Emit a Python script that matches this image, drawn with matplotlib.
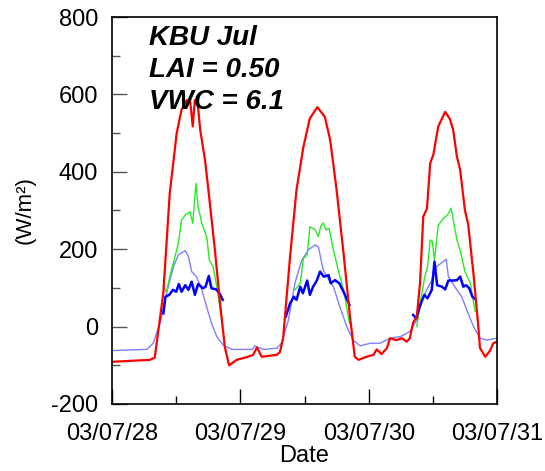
import numpy as np
import matplotlib
matplotlib.use("Agg")
import matplotlib.pyplot as plt
import matplotlib.dates as mdates
from datetime import datetime, timedelta

plt.rcParams['font.family'] = ['Liberation Sans', 'DejaVu Sans']
plt.rcParams['axes.unicode_minus'] = False

nan = np.nan
start = datetime(2003, 7, 28)

# net radiation (hours since start, W/m2)
rn_hours = [0, 7.1, 8.0, 9.6, 10.8, 12.1, 13.0, 14.0, 14.6, 15.1, 15.5, 16.0, 16.5,
            17.4, 18.3, 19.3, 20.2, 21.1, 21.9, 23.3, 25.2, 26.4, 27.1, 28.0, 30.8,
            31.4, 32.0, 33.3, 34.5, 35.8, 37.0, 38.4, 39.8, 40.8, 42.0, 43.3, 44.5,
            45.4, 46.1, 47.6, 48.9, 49.5, 50.4, 51.4, 52.0, 53.2, 54.2, 55.1, 55.7,
            56.3, 57.0, 57.6, 58.2, 58.9, 59.5, 60.1, 61.0, 62.3, 63.2, 63.8, 64.5,
            65.1, 66.0, 66.6, 67.6, 68.5, 68.8, 69.8, 70.7, 71.3, 72.0]
rn_vals = [-91, -86, -80, 87, 345, 500, 560, 585, 585, 517, 585, 580, 508,
           430, 319, 190, 61, -53, -100, -86, -79, -73, -54, -78, -73,
           -66, -30, 181, 353, 465, 538, 567, 542, 482, 353, 189, 26,
           -78, -86, -78, -73, -59, -71, -56, -30, -35, -30, -39, -30,
           10, 26, 112, 284, 305, 422, 445, 517, 555, 536, 508, 439,
           405, 300, 265, 135, 0, -55, -78, -62, -43, -39]

# sensible heat flux
h_hours = [0, 6.5, 7.7, 9.0, 10.2, 11.5, 12.4, 13.7, 14.3, 14.9, 15.8, 16.8, 17.7,
           18.6, 19.6, 20.8, 22.4, 23.9, 26.2, 26.7, 28.3, 30.8, 31.7, 33.0, 34.2,
           35.5, 36.7, 38.0, 38.6, 39.5, 40.2, 41.4, 42.6, 43.9, 45.1, 46.4, 48.3,
           50.1, 52.0, 53.9, 55.7, 57.0, 58.2, 59.8, 60.7, 62.5, 62.9, 64.1, 65.4,
           66.6, 67.6, 68.8, 70.1, 72.0]
h_vals = [-62, -59, -43, 9, 86, 155, 185, 196, 181, 142, 129, 95, 51,
          9, -26, -48, -59, -59, -59, -50, -59, -56, -43, 17, 112,
          172, 198, 211, 206, 146, 129, 103, 51, 0, -35, -50, -43,
          -43, -30, -26, -13, 17, 77, 120, 155, 174, 129, 103, 77,
          34, 0, -30, -35, -30]

# latent heat flux (daytime only)
le_hours = [9.6, 10.2, 10.8, 11.8, 12.4, 13.0, 13.7, 14.6, 15.1, 15.7, 16.1, 16.8,
            17.7, 18.2, 18.9, 19.6, 20.5, 27.0,
            34.2, 35.2, 35.8, 36.5, 37.0, 38.0, 38.6, 39.0, 39.5, 40.0, 40.6,
            41.4, 42.3, 43.3, 44.4, 50.0,
            57.0, 57.6, 58.5, 59.0, 59.5, 59.9, 60.3, 61.0, 62.0, 62.7, 63.4,
            64.5, 65.1, 66.0, 67.0, 67.9]
le_vals = [103, 90, 129, 181, 215, 275, 288, 297, 267, 370, 310, 267,
           232, 172, 155, 103, 21, nan,
           95, 112, 176, 185, 258, 250, 232, 258, 268, 250, 254,
           198, 146, 95, 9, nan,
           0, 60, 129, 155, 224, 219, 172, 262, 280, 288, 306,
           224, 198, 142, 112, 39]

# ground heat flux (daytime only)
g_hours = [9.6, 10.0, 10.7, 11.4, 12.0, 12.5, 13.0, 13.7, 14.3, 14.9, 15.5, 16.1,
           17.0, 17.5, 18.1, 18.6, 19.5, 20.1, 20.7, 27.0,
           32.5, 33.3, 34.0, 34.5, 35.2, 35.7, 36.1, 36.5, 37.0, 37.6, 38.3,
           38.9, 39.6, 40.5, 40.9, 41.7, 42.5, 43.3, 44.4, 50.0,
           56.3, 56.9, 57.5, 58.4, 59.0, 59.8, 60.3, 60.8, 61.7, 62.3, 62.9,
           63.8, 64.5, 65.1, 65.7, 66.2, 66.8, 67.4, 67.9]
g_vals = [34, 77, 82, 95, 90, 110, 90, 107, 95, 116, 82, 110,
          99, 103, 131, 99, 96, 86, 69, nan,
          26, 60, 77, 69, 103, 86, 103, 119, 82, 103, 119,
          142, 129, 133, 112, 120, 112, 90, 56, nan,
          30, 21, 51, 82, 73, 95, 168, 107, 103, 96, 119,
          119, 120, 129, 103, 107, 99, 77, 71]


def to_dates(hours):
    return [start + timedelta(hours=h) for h in hours]


fig = plt.figure(figsize=(5.45, 4.71), dpi=100)
ax = fig.add_axes([0.2055, 0.1423, 0.7065, 0.8216])

ax.plot(to_dates(h_hours), h_vals, color='#7f7fff', lw=1.0)
ax.plot(to_dates(le_hours), le_vals, color='#22ee22', lw=1.0)
ax.plot(to_dates(g_hours), g_vals, color='#0000ff', lw=1.8)
ax.plot(to_dates(rn_hours), rn_vals, color='#ff0000', lw=1.6)

ax.set_xlim(start, start + timedelta(days=3))
ax.set_ylim(-200, 800)
ax.set_yticks([-200, 0, 200, 400, 600, 800])
ax.yaxis.set_minor_locator(matplotlib.ticker.MultipleLocator(100))
ax.xaxis.set_major_locator(mdates.DayLocator())
ax.xaxis.set_minor_locator(mdates.HourLocator(byhour=12))
ax.xaxis.set_major_formatter(mdates.DateFormatter('%y/%m/%d'))

ax.tick_params(which='major', direction='in', length=11, width=1, labelsize=17)
ax.tick_params(axis='x', which='major', pad=14)
ax.tick_params(axis='y', which='major', pad=10)
ax.tick_params(which='minor', direction='in', length=5.5, width=1)
ax.tick_params(axis='y', which='both', colors='#555555', labelcolor='black')
for s in ax.spines.values():
    s.set_linewidth(1.2)

ax.set_xlabel('Date', fontsize=17, labelpad=0)
ax.set_ylabel('(W/m²)', fontsize=16, labelpad=11)

for i, line in enumerate(['KBU Jul', 'LAI = 0.50', 'VWC = 6.1']):
    ax.text(0.097, 0.98 - i * 0.083, line, transform=ax.transAxes,
            fontsize=20, fontweight='bold', fontstyle='italic', va='top', ha='left')

fig.savefig('out.png', dpi=100)
